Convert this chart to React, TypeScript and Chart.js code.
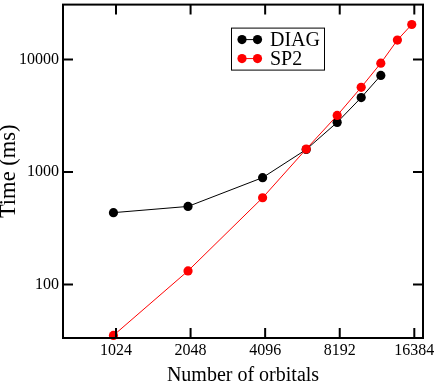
import { useEffect, useRef } from 'react';
import { Chart, registerables } from 'chart.js';

Chart.register(...registerables);

const orbitalTicks = [1024, 2048, 4096, 8192, 16384];
const timeTicks = [100, 1000, 10000];
const diagOrbitals = [1000, 2000, 4000, 6000, 8000, 10000, 12000];
const diagTimes = [435, 494, 891, 1585, 2762, 4590, 7220];
const sp2Orbitals = [1000, 2000, 4000, 6000, 8000, 10000, 12000, 14000, 16000];
const sp2Times = [35.2, 132, 590, 1600, 3185, 5660, 9290, 14900, 20500];
const seriesNames = ['DIAG', 'SP2'];
const seriesColors = ['#000000', '#ff0000'];

const FONT = "'Liberation Serif', 'Times New Roman', serif";

const framePlugin = {
  id: 'frameTicksLegend',
  afterDraw(chart: any) {
    const { ctx, chartArea: a, scales } = chart;
    ctx.save();
    ctx.strokeStyle = '#000';
    ctx.lineWidth = 2;
    ctx.strokeRect(a.left, a.top, a.right - a.left, a.bottom - a.top);
    ctx.beginPath();
    for (const v of orbitalTicks) {
      const x = scales.x.getPixelForValue(v);
      ctx.moveTo(x, a.bottom);
      ctx.lineTo(x, a.bottom - 10);
      ctx.moveTo(x, a.top);
      ctx.lineTo(x, a.top + 10);
    }
    for (const v of timeTicks) {
      const y = scales.y.getPixelForValue(v);
      ctx.moveTo(a.left, y);
      ctx.lineTo(a.left + 10, y);
      ctx.moveTo(a.right, y);
      ctx.lineTo(a.right - 10, y);
    }
    ctx.stroke();

    // legend
    const lx = a.left + 168;
    const ly = a.top + 23;
    ctx.fillStyle = '#fff';
    ctx.fillRect(lx + 0.5, ly + 0.5, 93, 42);
    ctx.lineWidth = 1;
    ctx.strokeStyle = '#000';
    ctx.strokeRect(lx + 0.5, ly + 0.5, 93, 42);
    seriesNames.forEach((name, i) => {
      const cy = ly + 12 + i * 19;
      const x1 = lx + 11;
      const x2 = lx + 26.5;
      ctx.strokeStyle = seriesColors[i];
      ctx.fillStyle = seriesColors[i];
      ctx.lineWidth = 1;
      ctx.beginPath();
      ctx.moveTo(x1, cy);
      ctx.lineTo(x2, cy);
      ctx.stroke();
      for (const x of [x1, x2]) {
        ctx.beginPath();
        ctx.arc(x, cy, 4.6, 0, Math.PI * 2);
        ctx.fill();
      }
      ctx.fillStyle = '#000';
      ctx.font = `20px ${FONT}`;
      ctx.textBaseline = 'middle';
      ctx.textAlign = 'left';
      ctx.fillText(name, lx + 39, cy + 1.5);
    });
    ctx.restore();
  },
};

export default function App() {
  const ref = useRef<HTMLCanvasElement>(null);
  useEffect(() => {
    if (!ref.current) return;
    const chart = new Chart(ref.current, {
      type: 'line',
      data: {
        datasets: [
          {
            label: seriesNames[0],
            data: diagOrbitals.map((x, i) => ({ x, y: diagTimes[i] })),
            borderColor: seriesColors[0],
            backgroundColor: seriesColors[0],
            borderWidth: 1,
            pointRadius: 4.6,
            pointBorderWidth: 0,
            order: 1,
            clip: false as any,
          },
          {
            label: seriesNames[1],
            data: sp2Orbitals.map((x, i) => ({ x, y: sp2Times[i] })),
            borderColor: seriesColors[1],
            backgroundColor: seriesColors[1],
            borderWidth: 1,
            pointRadius: 4.6,
            pointBorderWidth: 0,
            order: 0,
            clip: false as any,
          },
        ],
      },
      options: {
        animation: false,
        responsive: true,
        maintainAspectRatio: false,
        layout: { padding: { top: 2, right: 13, left: 0, bottom: 0 } },
        plugins: { legend: { display: false }, tooltip: { enabled: false } },
        scales: {
          x: {
            type: 'logarithmic',
            min: 625.7,
            max: 17763,
            grid: { display: false, drawTicks: false },
            border: { display: false },
            afterBuildTicks: (s: any) => {
              s.ticks = orbitalTicks.map((v) => ({ value: v }));
            },
            afterFit: (s: any) => {
              s.height = 46;
              s.paddingLeft = 0;
              s.paddingRight = 0;
            },
            ticks: {
              autoSkip: false,
              maxRotation: 0,
              padding: 3,
              color: '#000',
              font: { family: FONT, size: 16 },
              callback: (v: any) => String(v),
            },
            title: {
              display: true,
              text: 'Number of orbitals',
              color: '#000',
              font: { family: FONT, size: 20, lineHeight: 0.8 },
              padding: 0,
            },
          },
          y: {
            type: 'logarithmic',
            min: 33.4,
            max: 30800,
            grid: { display: false, drawTicks: false },
            border: { display: false },
            afterBuildTicks: (s: any) => {
              s.ticks = timeTicks.map((v) => ({ value: v }));
            },
            afterFit: (s: any) => {
              s.width = 63;
              s.paddingTop = 0;
              s.paddingBottom = 0;
            },
            ticks: {
              autoSkip: false,
              padding: 4,
              color: '#000',
              font: { family: FONT, size: 16 },
              callback: (v: any) => String(v),
            },
            title: {
              display: true,
              text: 'Time (ms)',
              color: '#000',
              font: { family: FONT, size: 22.5, lineHeight: 0.82 },
              padding: 0,
            },
          },
        },
      },
      plugins: [framePlugin],
    });
    return () => chart.destroy();
  }, []);
  return (
    <div style={{ position: 'fixed', left: 0, top: 0, width: 436, height: 384, background: '#fff' }}>
      <canvas ref={ref} />
    </div>
  );
}
